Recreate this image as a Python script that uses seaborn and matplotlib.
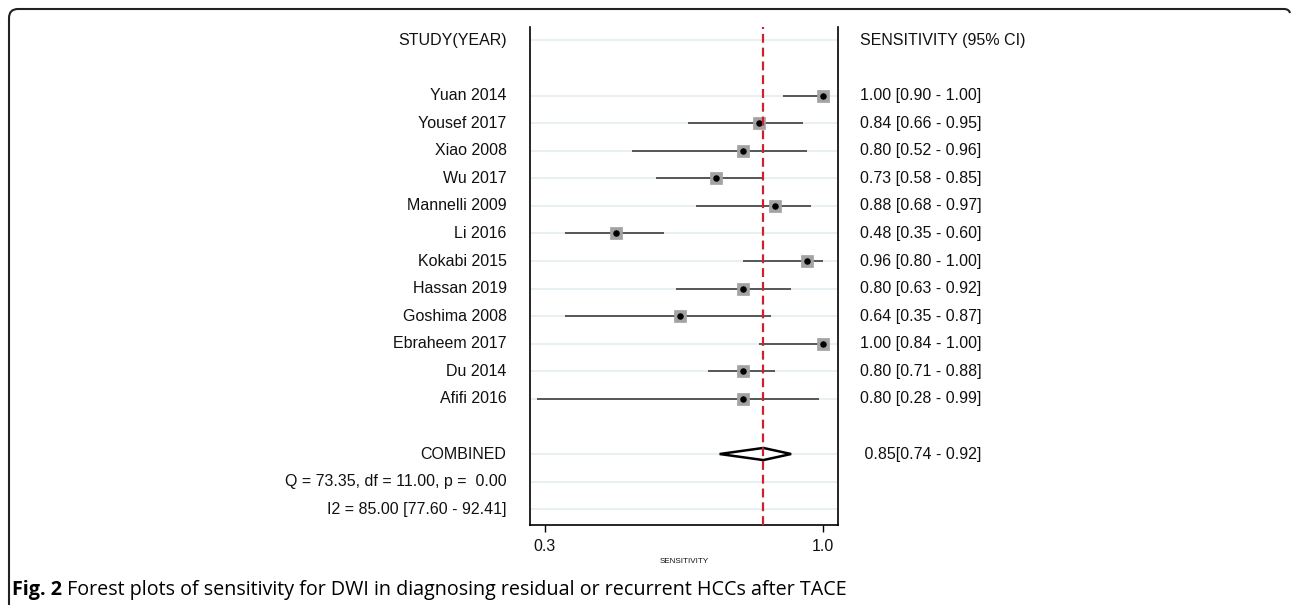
import numpy as np
import pandas as pd
import matplotlib.pyplot as plt
from matplotlib.patches import Polygon
from matplotlib.path import Path
from matplotlib.patches import PathPatch
import seaborn as sns

sns.set_theme(style="white")
plt.rcParams['font.family'] = ['Liberation Sans', 'DejaVu Sans']
plt.rcParams['text.color'] = '#111111'
plt.rcParams['xtick.color'] = '#111111'
plt.rcParams['axes.labelcolor'] = '#111111'

studies = ['Yuan 2014', 'Yousef 2017', 'Xiao 2008', 'Wu 2017', 'Mannelli 2009', 'Li 2016',
           'Kokabi 2015', 'Hassan 2019', 'Goshima 2008', 'Ebraheem 2017', 'Du 2014', 'Afifi 2016']
sens = [1.00, 0.84, 0.80, 0.73, 0.88, 0.48, 0.96, 0.80, 0.64, 1.00, 0.80, 0.80]
lower = [0.90, 0.66, 0.52, 0.58, 0.68, 0.35, 0.80, 0.63, 0.35, 0.84, 0.71, 0.28]
upper = [1.00, 0.95, 0.96, 0.85, 0.97, 0.60, 1.00, 0.92, 0.87, 1.00, 0.88, 0.99]

pooled = 0.85
pooled_lo = 0.74
pooled_hi = 0.92
q_text = 'Q = 73.35, df = 11.00, p =  0.00'
i2_text = 'I2 = 85.00 [77.60 - 92.41]'
caption_bold = 'Fig. 2'
caption_rest = ' Forest plots of sensitivity for DWI in diagnosing residual or recurrent HCCs after TACE'

df = pd.DataFrame({'study': studies, 'sens': sens, 'lo': lower, 'hi': upper})
df['row'] = np.arange(len(df)) + 2
row_comb = len(df) + 3
row_q = row_comb + 1
row_i2 = row_comb + 2

fig = plt.figure(figsize=(12.92, 6.05), dpi=100)
ax = fig.add_axes([0.410, 0.132, 0.2386, 0.823])

grid_c = '#e4eef2'
for r in [0] + list(df['row']) + [row_comb, row_q, row_i2]:
    ax.axhline(r, color=grid_c, lw=1.2, zorder=0)

ax.hlines(df['row'], df['lo'], df['hi'], color='#4a4a4a', lw=1.3, zorder=2)
sns.scatterplot(data=df, x='sens', y='row', marker='s', s=85, color='#a3a3a3',
                edgecolor='#a3a3a3', linewidth=0.5, zorder=3, ax=ax, legend=False)
sns.scatterplot(data=df, x='sens', y='row', marker='o', s=22, color='black',
                edgecolor='black', linewidth=0, zorder=4, ax=ax, legend=False)

dh = 0.22
diamond = Polygon([[pooled_lo, row_comb], [pooled, row_comb - dh], [pooled_hi, row_comb],
                   [pooled, row_comb + dh]], closed=True, facecolor='white',
                  edgecolor='black', lw=1.8, zorder=3)
ax.add_patch(diamond)

ax.axvline(pooled, color='#d0202e', lw=1.6, ls=(0, (4, 2.2)), zorder=5)

ax.set_xlim(0.262, 1.038)
ax.set_ylim(17.58, -0.48)
ax.set_xticks([0.3, 1.0])
ax.set_xticklabels(['0.3', '1.0'], fontsize=11.5)
ax.set_yticks([])
ax.tick_params(axis='x', direction='out', length=5, width=1, color='black', pad=5, bottom=True)
ax.set_xlabel('SENSITIVITY', fontsize=5.8, labelpad=3)
ax.set_ylabel('')
for side in ['left', 'right', 'bottom']:
    ax.spines[side].set_color('black')
    ax.spines[side].set_linewidth(1.2)
ax.spines['top'].set_visible(False)

ytr = ax.get_yaxis_transform()
fs = 11.5
xl = -0.075
xr = 1.071
ax.text(xl, 0, 'STUDY(YEAR)', ha='right', va='center', fontsize=fs, transform=ytr)
ax.text(xr, 0, 'SENSITIVITY (95% CI)', ha='left', va='center', fontsize=fs, transform=ytr)
for _, r in df.iterrows():
    ax.text(xl, r['row'], r['study'], ha='right', va='center', fontsize=fs, transform=ytr)
    ax.text(xr, r['row'], f"{r['sens']:.2f} [{r['lo']:.2f} - {r['hi']:.2f}]",
            ha='left', va='center', fontsize=fs, transform=ytr)
ax.text(xl, row_comb, 'COMBINED', ha='right', va='center', fontsize=fs, transform=ytr)
ax.text(xr, row_comb, f" {pooled:.2f}[{pooled_lo:.2f} - {pooled_hi:.2f}]",
        ha='left', va='center', fontsize=fs, transform=ytr)
ax.text(xl, row_q, q_text, ha='right', va='center', fontsize=fs, transform=ytr)
ax.text(xl, row_i2, i2_text, ha='right', va='center', fontsize=fs, transform=ytr)

# caption
cap_fs = 14.2
cap = fig.text(12 / 1292, 1 - 590 / 605, caption_bold, fontsize=cap_fs, fontweight='bold',
               family=['Open Sans', 'DejaVu Sans'], va='center', ha='left', color='black')
fig.canvas.draw()
bb = cap.get_window_extent()
fig.text(bb.x1 / 1292, 1 - 590 / 605, caption_rest, fontsize=cap_fs,
         family=['Open Sans', 'DejaVu Sans'], va='center', ha='left', color='black')

# page frame (left + top, rounded corners)
W, H = 1292, 605
verts = [(9, 0), (9, H - 18), (9, H - 9), (18, H - 9), (W - 8, H - 9), (W - 3, H - 9), (W - 2, H - 13)]
codes = [Path.MOVETO, Path.LINETO, Path.CURVE3, Path.CURVE3, Path.LINETO, Path.CURVE3, Path.CURVE3]
verts = [(x / W, y / H) for x, y in verts]
frame = PathPatch(Path(verts, codes), transform=fig.transFigure, fill=False,
                  edgecolor='#222222', lw=1.5)
fig.patches.append(frame)

fig.savefig('out.png', dpi=100, facecolor='white')
